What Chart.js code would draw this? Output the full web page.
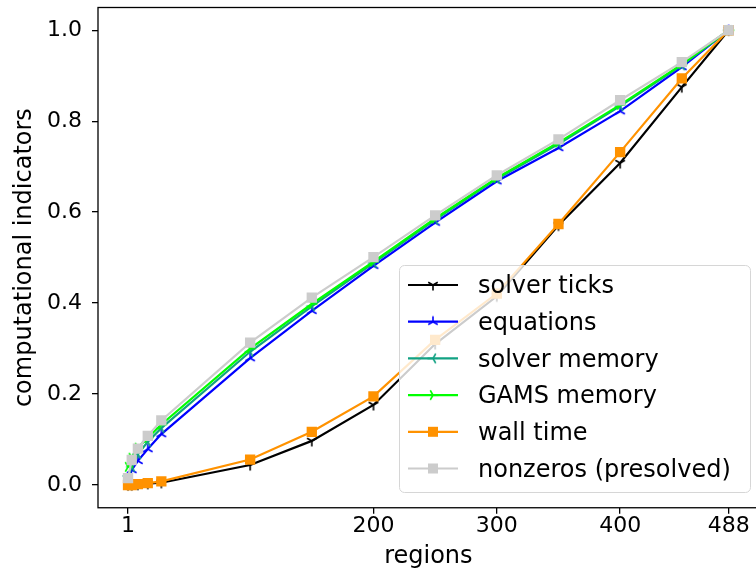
<!DOCTYPE html>
<html>
<head>
<meta charset="utf-8">
<script src="https://cdn.jsdelivr.net/npm/chart.js@4/dist/chart.umd.min.js"></script>
<style>
  html, body { margin: 0; padding: 0; background: #fff; overflow: hidden; }
  #wrap { width: 766px; height: 573px; }
</style>
</head>
<body>
<div id="wrap"><canvas id="chart" width="766" height="573"></canvas></div>
<script>
// values
const regions = [1, 4, 9, 17, 28, 100, 150, 200, 250, 300, 350, 400, 450, 488];

const solverTicks   = [0.000, 0.000, 0.001, 0.003, 0.005, 0.044, 0.097, 0.176, 0.310, 0.415, 0.571, 0.708, 0.875, 1.0];
const equations     = [0.005, 0.033, 0.053, 0.079, 0.112, 0.279, 0.383, 0.482, 0.577, 0.668, 0.741, 0.822, 0.919, 1.0];
const solverMemory  = [0.020, 0.040, 0.068, 0.095, 0.125, 0.293, 0.393, 0.488, 0.583, 0.673, 0.750, 0.833, 0.923, 1.0];
const gamsMemory    = [0.040, 0.060, 0.082, 0.104, 0.133, 0.300, 0.398, 0.491, 0.586, 0.675, 0.753, 0.836, 0.925, 1.0];
const wallTime      = [0.000, 0.000, 0.002, 0.004, 0.008, 0.056, 0.117, 0.195, 0.319, 0.421, 0.574, 0.732, 0.894, 1.0];
const nonzeros      = [0.015, 0.055, 0.080, 0.108, 0.142, 0.313, 0.412, 0.501, 0.593, 0.681, 0.760, 0.846, 0.930, 1.0];

const seriesLabels = ['solver ticks', 'equations', 'solver memory', 'GAMS memory', 'wall time', 'nonzeros (presolved)'];

const xTickValues = [1, 200, 300, 400, 488];
const yTickValues = [0, 0.2, 0.4, 0.6, 0.8, 1.0];

const FONT = 'DejaVu Sans';

// matplotlib style "tri" markers ('1' '2' '3' '4') as small canvases
function triMarker(color, angles) {
  const c = document.createElement('canvas');
  c.width = 16;
  c.height = 16;
  const g = c.getContext('2d');
  g.strokeStyle = color;
  g.lineWidth = 1.6;
  g.beginPath();
  angles.forEach((a) => {
    const r = a * Math.PI / 180;
    g.moveTo(8, 8);
    g.lineTo(8 + 5.5 * Math.cos(r), 8 + 5.5 * Math.sin(r));
  });
  g.stroke();
  return c;
}

const TRI_DOWN = [90, -30, 210];
const TRI_UP = [-90, 30, 150];
const TRI_LEFT = [180, 60, -60];
const TRI_RIGHT = [0, 120, 240];

function makeSet(label, values, color, style, order) {
  return {
    label,
    data: regions.map((x, i) => ({ x, y: values[i] })),
    borderColor: color,
    backgroundColor: color,
    borderWidth: 2.2,
    pointStyle: style,
    pointRadius: style === 'rect' ? 7.3 : 6,
    pointBackgroundColor: color,
    pointBorderColor: color,
    pointBorderWidth: 0,
    tension: 0,
    order
  };
}

const datasets = [
  makeSet(seriesLabels[0], solverTicks, '#000000', triMarker('#000000', TRI_DOWN), 6),
  makeSet(seriesLabels[1], equations, '#0000ff', triMarker('#0000ff', TRI_UP), 5),
  makeSet(seriesLabels[2], solverMemory, '#12a283', triMarker('#12a283', TRI_LEFT), 4),
  makeSet(seriesLabels[3], gamsMemory, '#00ff00', triMarker('#00ff00', TRI_RIGHT), 3),
  makeSet(seriesLabels[4], wallTime, '#ff9200', 'rect', 2),
  makeSet(seriesLabels[5], nonzeros, '#cccccc', 'rect', 1)
];

const frame = {
  id: 'frame',
  afterDatasetsDraw(chart) {
    const { ctx, chartArea: a } = chart;
    ctx.save();
    ctx.strokeStyle = '#000';
    ctx.lineWidth = 1.3;
    ctx.strokeRect(a.left, a.top, a.right - a.left, a.bottom - a.top);
    ctx.restore();
  }
};

const boxLegend = {
  id: 'boxLegend',
  afterDraw(chart) {
    const ctx = chart.ctx;
    ctx.save();
    ctx.beginPath();
    ctx.roundRect(399.5, 265.5, 351, 227, 5);
    ctx.fillStyle = 'rgba(255,255,255,0.8)';
    ctx.fill();
    ctx.strokeStyle = '#d6d6d6';
    ctx.lineWidth = 1;
    ctx.stroke();

    chart.data.datasets.forEach((ds, i) => {
      const y = 285 + i * 36.7;
      ctx.strokeStyle = ds.borderColor;
      ctx.lineWidth = ds.borderWidth;
      ctx.beginPath();
      ctx.moveTo(408, y);
      ctx.lineTo(458, y);
      ctx.stroke();
      if (ds.pointStyle === 'rect') {
        ctx.fillStyle = ds.borderColor;
        ctx.fillRect(428, y - 5, 10, 10);
      } else {
        ctx.drawImage(ds.pointStyle, 433 - 8, y - 8);
      }
      ctx.fillStyle = '#000';
      ctx.font = '24px "' + FONT + '"';
      ctx.textBaseline = 'middle';
      ctx.textAlign = 'left';
      ctx.fillText(ds.label, 478, y + 2);
    });
    ctx.restore();
  }
};

new Chart(document.getElementById('chart'), {
  type: 'line',
  data: { datasets },
  options: {
    responsive: false,
    animation: false,
    devicePixelRatio: 1,
    layout: { padding: { left: 0, right: 4, top: 7.5, bottom: 0 } },
    plugins: {
      legend: { display: false },
      tooltip: { enabled: false }
    },
    scales: {
      x: {
        type: 'linear',
        min: -23.35,
        max: 512.35,
        afterBuildTicks: (scale) => { scale.ticks = xTickValues.map((v) => ({ value: v })); },
        afterFit: (scale) => {
          scale.height = 65.25;
          scale.paddingLeft = 0;
          scale.paddingRight = 0;
        },
        grid: { drawOnChartArea: false, drawTicks: true, tickLength: 6, color: '#000', lineWidth: 1.3 },
        border: { display: false },
        ticks: {
          color: '#000',
          padding: 0,
          maxRotation: 0,
          font: { family: FONT, size: 22, lineHeight: 1.1 }
        },
        title: {
          display: true,
          text: 'regions',
          color: '#000',
          font: { family: FONT, size: 24 },
          padding: { top: 0, bottom: 2 }
        }
      },
      y: {
        min: -0.05,
        max: 1.05,
        afterBuildTicks: (scale) => { scale.ticks = yTickValues.map((v) => ({ value: v })); },
        afterFit: (scale) => {
          scale.width = 98;
          scale.paddingTop = 0;
          scale.paddingBottom = 0;
        },
        grid: { drawOnChartArea: false, drawTicks: true, tickLength: 6, color: '#000', lineWidth: 1.3 },
        border: { display: false },
        ticks: {
          color: '#000',
          padding: 10,
          font: { family: FONT, size: 22 },
          callback: (v) => v.toFixed(1)
        },
        title: {
          display: true,
          text: 'computational indicators',
          color: '#000',
          font: { family: FONT, size: 24 },
          padding: { top: 10.6, bottom: 0 }
        }
      }
    }
  },
  plugins: [frame, boxLegend]
});
</script>
</body>
</html>
